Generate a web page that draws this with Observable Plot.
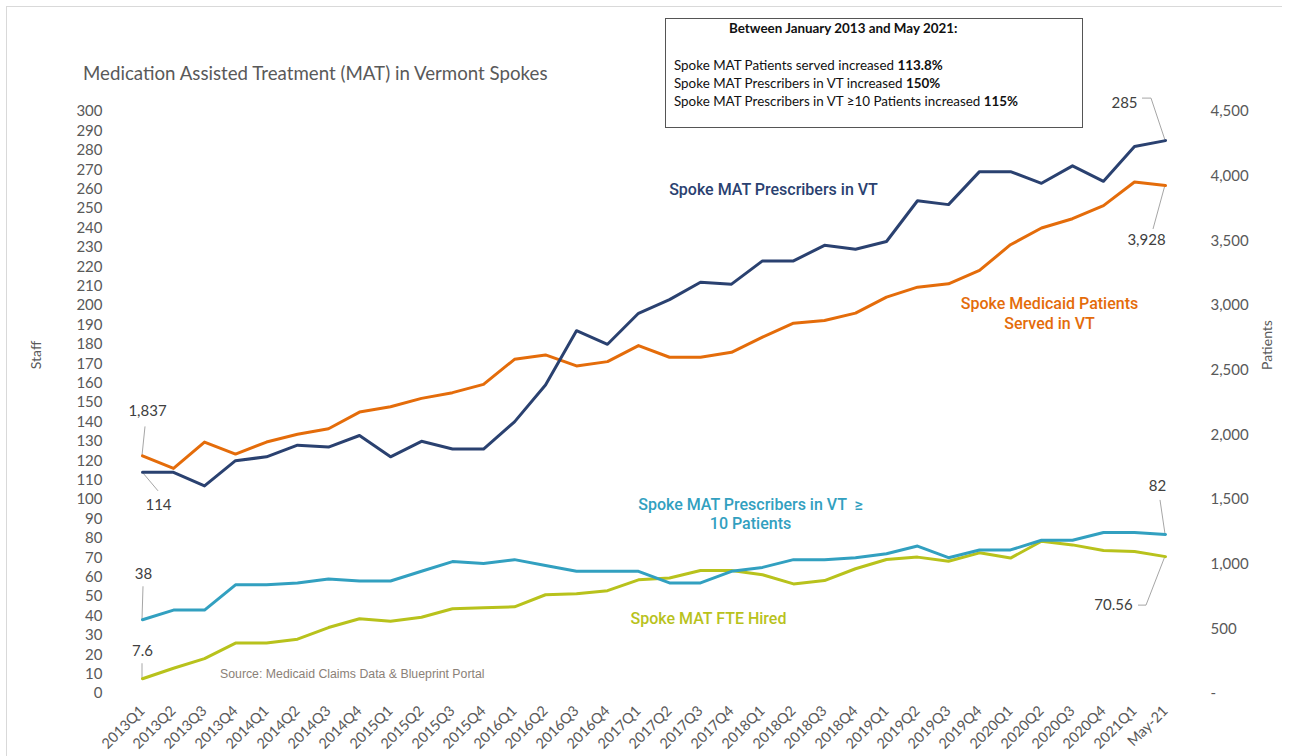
<!DOCTYPE html>
<html><head><meta charset="utf-8">
<script src="https://cdn.jsdelivr.net/npm/d3@7"></script>
<script src="https://cdn.jsdelivr.net/npm/@observablehq/plot@0.6"></script>
<style>
body{margin:0;background:#fff;}
#wrap{position:relative;width:1290px;height:756px;overflow:hidden;font-family:Lato,sans-serif;}
#wrap svg{position:absolute;left:0;top:0;}
.ov{position:absolute;white-space:nowrap;}
</style></head><body><div id="wrap"></div>
<script>
// ---- data ----
const quarters = ["2013Q1","2013Q2","2013Q3","2013Q4","2014Q1","2014Q2","2014Q3","2014Q4",
  "2015Q1","2015Q2","2015Q3","2015Q4","2016Q1","2016Q2","2016Q3","2016Q4",
  "2017Q1","2017Q2","2017Q3","2017Q4","2018Q1","2018Q2","2018Q3","2018Q4",
  "2019Q1","2019Q2","2019Q3","2019Q4","2020Q1","2020Q2","2020Q3","2020Q4","2021Q1","May-21"];
const prescribers = [114,114,107,120,122,128,127,133,122,130,126,126,140,159,187,180,
  196,203,212,211,223,223,231,229,233,254,252,269,269,263,272,264,282,285];
const patients = [1837,1740,1944,1851,1944,2004,2047,2176,2217,2282,2326,2390,2584,2618,2533,2566,
  2690,2600,2600,2638,2755,2863,2884,2941,3065,3142,3168,3271,3470,3599,3671,3772,3955,3928];
const prescribers10 = [38,43,43,56,56,57,59,58,58,63,68,67,69,66,63,63,
  63,57,57,63,65,69,69,70,72,76,70,74,74,79,79,83,83,82];
const fteHired = [7.6,13,18,26,26,28,34,38.5,37.3,39.3,43.7,44.2,44.7,50.9,51.4,53,
  58.6,59.5,63.4,63.4,61.2,56.5,58.2,64.3,69.1,70.3,68.2,72.5,69.8,78.5,76.6,73.7,73.2,70.56];
const staffTicks = d3.range(0, 301, 10);
const patientTicks = d3.range(0, 4501, 500);
const patientRatio = 4500 / 300; // right axis max / left axis max

const rows = quarters.map((q, i) => ({q, prescribers: prescribers[i], patients: patients[i],
  prescribers10: prescribers10[i], fte: fteHired[i]}));

const C = {navy:"#2a4170", orange:"#e46c0a", teal:"#32a0c0", lime:"#b8c21c", axis:"#595959", lab:"#404040"};

const seriesFont = "Roboto, sans-serif";
const sLab = {frameAnchor: "top-left", textAnchor: "middle", lineAnchor: "middle", text: d => d,
  fontFamily: seriesFont, fontWeight: 500, fontSize: 16, lineHeight: 1.2};

const plot = Plot.plot({
  width: 1290, height: 756,
  marginTop: 111, marginBottom: 63, marginLeft: 116, marginRight: 99,
  style: {fontFamily: "Lato, sans-serif", color: C.axis, background: "transparent"},
  x: {type: "point", domain: quarters, padding: 0.5},
  y: {domain: [0, 300]},
  marks: [
    Plot.axisY({anchor: "left", ticks: staffTicks, tickSize: 0, tickPadding: 14, fontSize: 15, label: null}),
    Plot.axisY({anchor: "right", ticks: patientTicks.map(p => p / patientRatio), tickSize: 0, tickPadding: 19, fontSize: 15, label: null,
      tickFormat: d => d === 0 ? "-" : d3.format(",")(Math.round(d * patientRatio))}),
    Plot.axisX({ticks: quarters, tickRotate: -45, tickSize: 0, tickPadding: 15, fontSize: 14.5, label: null}),
    Plot.line(rows, {x: "q", y: d => d.patients / patientRatio, stroke: C.orange, strokeWidth: 3}),
    Plot.line(rows, {x: "q", y: "prescribers", stroke: C.navy, strokeWidth: 3}),
    Plot.line(rows, {x: "q", y: "fte", stroke: C.lime, strokeWidth: 3}),
    Plot.line(rows, {x: "q", y: "prescribers10", stroke: C.teal, strokeWidth: 3}),
    // data labels at first / last points
    Plot.text([rows[0]], {x: "q", y: d => d.patients / patientRatio, text: d => d3.format(",")(d.patients), dx: 5, dy: -45, fontSize: 15, fill: C.lab}),
    Plot.text([rows[0]], {x: "q", y: "prescribers", text: d => String(d.prescribers), dx: 16, dy: 33, fontSize: 15, fill: C.lab}),
    Plot.text([rows[0]], {x: "q", y: "prescribers10", text: d => String(d.prescribers10), dx: 1, dy: -46, fontSize: 15, fill: C.lab}),
    Plot.text([rows[0]], {x: "q", y: "fte", text: d => String(d.fte), dx: 0, dy: -28, fontSize: 15, fill: C.lab}),
    Plot.text([rows[33]], {x: "q", y: "prescribers", text: d => String(d.prescribers), dx: -41, dy: -37, fontSize: 15, fill: C.lab}),
    Plot.text([rows[33]], {x: "q", y: d => d.patients / patientRatio, text: d => d3.format(",")(d.patients), dx: -19, dy: 55, fontSize: 15, fill: C.lab}),
    Plot.text([rows[33]], {x: "q", y: "prescribers10", text: d => String(d.prescribers10), dx: -8, dy: -48, fontSize: 15, fill: C.lab}),
    Plot.text([rows[33]], {x: "q", y: "fte", text: d => String(d.fte), dx: -52, dy: 49, fontSize: 15, fill: C.lab}),
    // series labels
    Plot.text(["Spoke MAT Prescribers in VT"], {...sLab, dx: 657, dy: 77, fill: C.navy}),
    Plot.text(["Spoke Medicaid Patients\nServed in VT"], {...sLab, dx: 933, dy: 201, lineHeight: 1.25, fill: C.orange}),
    Plot.text(["Spoke MAT Prescribers in VT  \u2265\n10 Patients"], {...sLab, dx: 634, dy: 402, lineHeight: 1.15, fill: C.teal}),
    Plot.text(["Spoke MAT FTE Hired"], {...sLab, dx: 592, dy: 506, fill: C.lime})
  ]
});

const wrap = document.getElementById("wrap");
wrap.appendChild(plot);

// leader lines for data labels, positioned through the plot's own scales
const sx = plot.scale("x"), sy = plot.scale("y");
const fx = sx.apply ? v => sx.apply(v) : d3.scalePoint().domain(sx.domain).range(sx.range).padding(sx.padding).align(sx.align ?? 0.5);
const fy = sy.apply ? v => sy.apply(v) : d3.scaleLinear().domain(sy.domain).range(sy.range);
const leaders = [
  [rows[0].q, rows[0].patients / patientRatio, [[0,0],[3,-29]]],
  [rows[0].q, rows[0].prescribers, [[0,0],[16,19]]],
  [rows[0].q, rows[0].prescribers10, [[0,0],[1,-33]]],
  [rows[0].q, rows[0].fte, [[0,0],[0,-15]]],
  [rows[33].q, rows[33].prescribers, [[0,0],[-14,-42],[-23,-42]]],
  [rows[33].q, rows[33].patients / patientRatio, [[0,0],[-12,44]]],
  [rows[33].q, rows[33].prescribers10, [[0,0],[-5,-34]]],
  [rows[33].q, rows[33].fte, [[0,0],[-19,49],[-27,49]]]
];
const svg = d3.select(plot);
for (const [q, v, pts] of leaders) {
  const x0 = fx(q), y0 = fy(v);
  svg.insert("path", ":first-child").attr("d", d3.line()(pts.map(([a,b]) => [x0 + a, y0 + b])))
    .attr("fill", "none").attr("stroke", "#a6a6a6").attr("stroke-width", 1);
}

// overlays: frame, title, axis titles, source, info box
function ov(html, css) {
  const d = document.createElement("div");
  d.className = "ov"; d.innerHTML = html; d.style.cssText += css; wrap.appendChild(d); return d;
}
ov("", "left:6px;top:6px;width:1276px;height:0;border-top:1.5px solid #d9d9d9;");
ov("", "left:6px;top:6px;width:0;height:760px;border-left:1.5px solid #d9d9d9;");
ov("Medication Assisted Treatment (MAT) in Vermont Spokes", "left:83px;top:62px;font-size:18.7px;color:#595959;");
ov("Staff", "left:35px;top:355px;font-size:14px;color:#595959;transform:translate(-50%,-50%) rotate(-90deg);");
ov("Patients", "left:1266px;top:345px;font-size:14px;color:#595959;transform:translate(-50%,-50%) rotate(-90deg);");
ov("Source: Medicaid Claims Data &amp; Blueprint Portal", "left:220px;top:667px;font-family:'Liberation Sans',Arial,sans-serif;font-size:12.3px;color:#8b8178;");
const box = ov(`<div style="position:absolute;left:63px;top:1px;font-weight:bold;">Between January 2013 and May 2021:</div>
<div style="position:absolute;left:8px;top:37px;line-height:18px;">Spoke MAT Patients served increased <b>113.8%</b><br>Spoke MAT Prescribers in VT increased <b>150%</b><br>Spoke MAT Prescribers in VT \u226510 Patients increased <b>115%</b></div>`,
  "left:665px;top:18px;width:418px;height:110px;border:1.5px solid #555;box-sizing:border-box;font-size:13.4px;color:#111;");
</script></body></html>
